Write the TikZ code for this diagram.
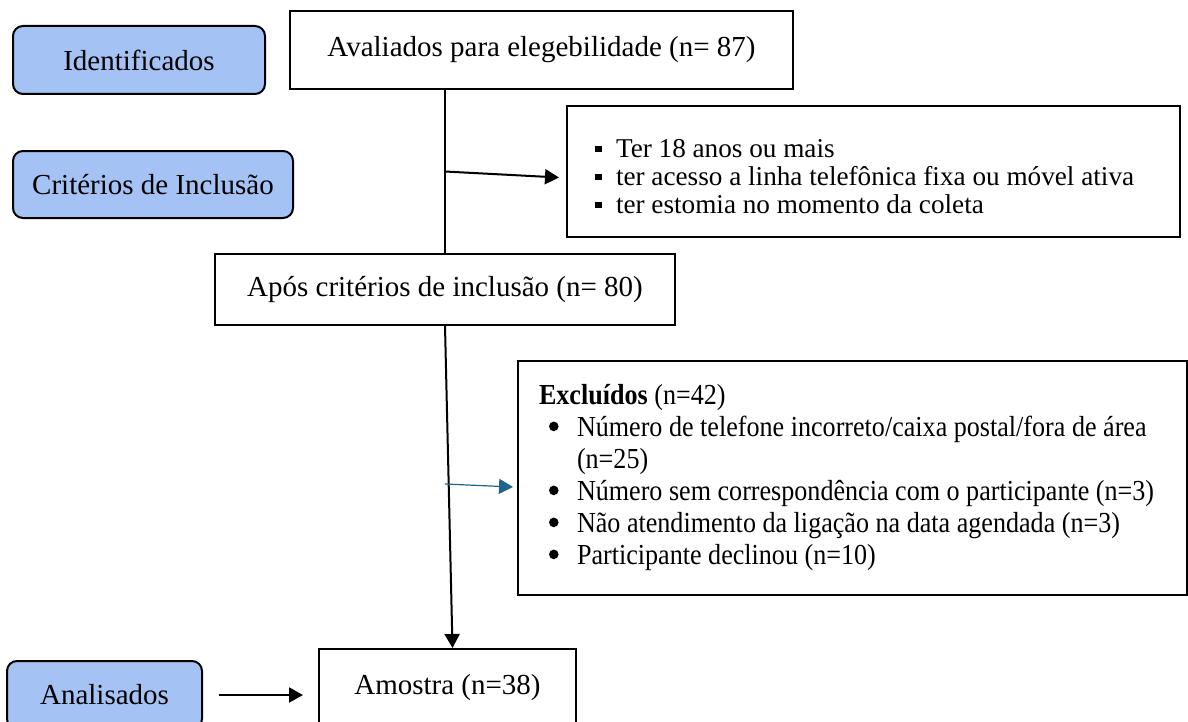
\documentclass[tikz,border=0pt]{standalone}
\usepackage{fontspec}
\setmainfont{Liberation Serif}
\newfontfamily\condserif[FakeStretch=0.9]{Liberation Serif}
\usetikzlibrary{arrows.meta}

\definecolor{caixaazul}{HTML}{A4C2F4}
\definecolor{setaazul}{RGB}{31,100,140}

% 列表符号
\newcommand{\quadrado}{\makebox[10.5pt][l]{\rule[0.18em]{3.3pt}{3.3pt}}}
\newcommand{\ponto}{\hspace*{5pt}\makebox[14pt][l]{\raisebox{0.2em}{\tikz\fill (0,0) circle (2.4pt);}}}

\begin{document}
\begin{tikzpicture}[x=0.5pt, y=-0.5pt,
    etapa/.style={draw, line width=1pt, rounded corners=5pt, fill=caixaazul,
        minimum height=34pt, font=\fontsize{14.5}{17}\selectfont},
    caixa/.style={draw, line width=1pt, font=\fontsize{14.5}{17}\selectfont},
    lista/.style={draw, line width=1pt, align=flush left},
    seta/.style={line width=1pt, -{Triangle[length=7pt, width=7.5pt]}}]
    \useasboundingbox (0,0) rectangle (1188,722);
    \clip (0,0) rectangle (1188,722);

    % 绘制左侧阶段标签
    \node[etapa, minimum width=126pt] (ident) at (139,60) {Identificados};
    \node[etapa, minimum width=140pt, minimum height=33.5pt] (crit) at (153,184.5) {Critérios de Inclusão};
    \node[etapa, minimum width=97.5pt] (anal) at (104.5,695) {Analisados};

    % 绘制流程主框
    \node[caixa, minimum width=251.5pt, minimum height=39pt] (aval) at (541.5,50) {Avaliados para elegebilidade (n= 87)};
    \node[caixa, minimum width=230pt, minimum height=35.5pt] (apos) at (445,289.5) {Após critérios de inclusão (n= 80)};
    \node[caixa, minimum width=128.5pt, minimum height=39pt] (amostra) at (447.5,688) {Amostra (n=38)};

    % 绘制纳入标准框
    \node[lista, minimum width=306.5pt, minimum height=65.5pt, text width=278.5pt, inner xsep=14pt,
        font=\fontsize{13.6}{14}\selectfont] (incl) at (873.5,171.5)
        {\quadrado\rule{0pt}{14pt}Ter 18 anos ou mais\\
         \quadrado ter acesso a linha telefônica fixa ou móvel ativa\\
         \quadrado ter estomia no momento da coleta};

    % 绘制排除框
    \node[lista, minimum width=334.5pt, minimum height=117pt, text width=313.5pt, inner xsep=10.5pt,
        font={\condserif\fontsize{14.5}{16}\selectfont}] (excl) at (852.5,478)
        {\textbf{Excluídos} (n=42)\\
         \ponto\mbox{Número de telefone incorreto/caixa postal/fora de área}\\
         \hspace*{19pt}(n=25)\\
         \ponto\mbox{Número sem correspondência com o participante (n=3)}\\
         \ponto\mbox{Não atendimento da ligação na data agendada (n=3)}\\
         \ponto\mbox{Participante declinou (n=10)}};

    % 绘制连接线和箭头
    \coordinate (saida) at (445,484);
    \draw[line width=1pt] (aval.south -| apos.north) -- (apos.north);
    \draw[seta] (apos.north |- incl.west) -- ([shift={(-7,6)}]incl.west);
    \draw[seta] (apos.south) -- ([xshift=2.5pt]amostra.north);
    \draw[seta, line width=0.6pt, setaazul] (saida) -- ([shift={(-4,9)}]excl.west);
    \draw[seta] ([xshift=8pt]anal.east) -- ([xshift=-7.5pt]amostra.west |- anal.east);

\end{tikzpicture}
\end{document}
